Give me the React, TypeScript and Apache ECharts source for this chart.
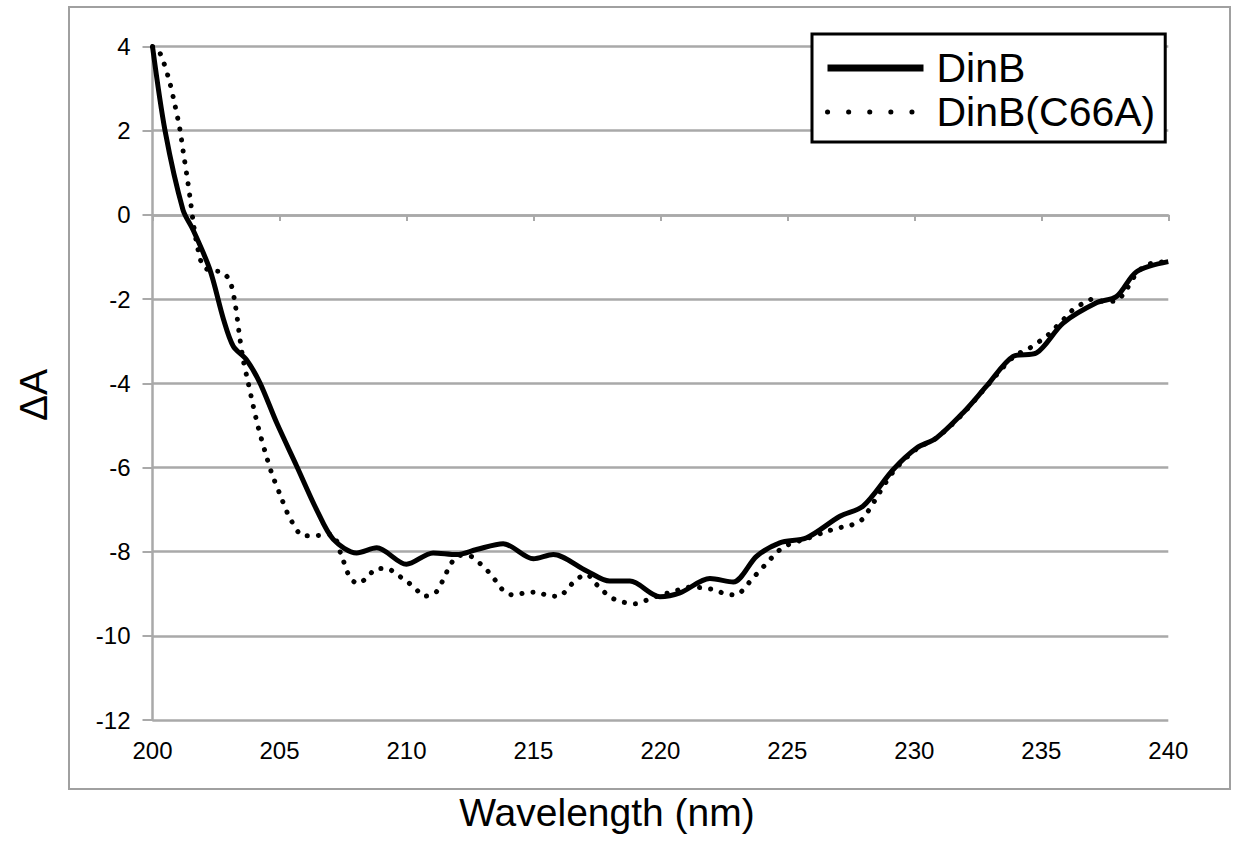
import React, { useEffect, useRef } from "react";
import * as echarts from "echarts";

const xTicks = [200, 205, 210, 215, 220, 225, 230, 235, 240];
const yTicks = [-12, -10, -8, -6, -4, -2, 0, 2, 4];

const dinbNm = [
  200.0, 200.5, 201.2, 201.6, 202.26, 202.8, 203.18, 203.7, 204.23, 204.89, 205.68, 206.46, 207.12,
  208.04, 208.83, 210.0, 211.05, 211.98, 212.76, 213.81, 215.0, 215.78, 217.1, 218.0, 218.8, 219.98,
  220.77, 221.95, 222.87, 223.79, 224.7, 225.76, 227.07, 227.98, 229.17, 230.09, 230.87, 231.92, 232.84,
  233.89, 234.81, 235.86, 237.17, 237.96, 238.75, 240.0,
];
const dinbVal = [
  4.0, 1.98, 0.12, -0.36, -1.3, -2.49, -3.12, -3.44, -3.99, -4.94, -5.97, -7.0, -7.71,
  -8.03, -7.91, -8.3, -8.03, -8.07, -7.95, -7.81, -8.17, -8.07, -8.46, -8.7, -8.7, -9.07,
  -8.98, -8.64, -8.72, -8.11, -7.79, -7.67, -7.16, -6.92, -6.05, -5.54, -5.3, -4.7, -4.07,
  -3.36, -3.28, -2.57, -2.09, -1.94, -1.35, -1.11,
];

const c66aNm = [
  200.0, 200.23, 200.43, 200.69, 200.89, 201.08, 201.21, 201.35, 201.48, 201.6, 201.74, 202.0, 202.4,
  202.72, 203.05, 203.25, 203.44, 203.57, 203.77, 203.97, 204.17, 204.43, 204.69, 205.02, 205.41, 205.94,
  206.33, 207.05, 207.45, 207.78, 208.1, 208.5, 208.83, 209.24, 209.61, 210.0, 210.36, 210.69, 211.12,
  211.35, 211.55, 211.78, 212.1, 212.53, 212.93, 213.26, 213.55, 213.84, 214.2, 214.67, 215.13, 215.54,
  216.02, 216.37, 216.7, 217.1, 217.42, 217.75, 218.12, 218.54, 219.0, 219.43, 219.85, 220.31, 220.77,
  221.23, 221.62, 222.08, 222.54, 222.97, 223.33, 223.59, 223.92, 224.24, 224.57, 224.9, 225.76, 226.6,
  227.07, 227.46, 227.9, 228.18, 229.17, 230.09, 230.87, 231.92, 232.84, 233.89, 234.55, 234.94, 235.27,
  235.6, 235.93, 236.25, 236.65, 237.04, 237.5, 237.96, 238.3, 238.76, 239.15, 239.55, 240.0,
];
const c66aVal = [
  4.0, 3.91, 3.64, 3.12, 2.59, 2.03, 1.5, 0.95, 0.4, -0.16, -0.67, -1.23, -1.33,
  -1.35, -1.58, -2.1, -2.93, -3.44, -3.99, -4.55, -5.06, -5.62, -6.13, -6.64, -7.2, -7.62,
  -7.62, -7.59, -8.11, -8.62, -8.76, -8.58, -8.4, -8.4, -8.54, -8.7, -8.88, -9.06, -8.99,
  -8.78, -8.53, -8.26, -8.09, -8.11, -8.3, -8.5, -8.72, -8.94, -9.03, -8.98, -8.96, -9.04,
  -9.06, -8.86, -8.66, -8.54, -8.74, -8.94, -9.11, -9.2, -9.24, -9.16, -9.06, -8.98, -8.9,
  -8.84, -8.86, -8.9, -9.0, -9.03, -8.86, -8.66, -8.45, -8.24, -8.03, -7.87, -7.69, -7.51,
  -7.43, -7.38, -7.26, -7.04, -6.1, -5.56, -5.3, -4.72, -4.08, -3.38, -3.16, -3.0, -2.85,
  -2.65, -2.45, -2.25, -2.1, -2.0, -2.06, -2.04, -1.82, -1.38, -1.19, -1.13, -1.11,
];

const seriesNames = ["DinB", "DinB(C66A)"];
const xTitle = "Wavelength (nm)";
const yTitle = "ΔA";

const FONT = "'Liberation Sans', Arial, Helvetica, sans-serif";
const GRID = "#a9a9a9";

export default function App() {
  const ref = useRef<HTMLDivElement>(null);
  useEffect(() => {
    if (!ref.current) return;
    const chart = echarts.init(ref.current, undefined, { renderer: "svg" });
    const dinb = dinbNm.map((x, i) => [x, dinbVal[i]]);
    const c66a = c66aNm.map((x, i) => [x, c66aVal[i]]);
    const hiddenSymbol = { color: "rgba(0,0,0,0)", opacity: 0, borderWidth: 0 };
    chart.setOption({
      animation: false,
      backgroundColor: "#ffffff",
      color: ["#000", "#000"],
      textStyle: { fontFamily: FONT },
      grid: { left: 152.5, right: 66.7, top: 46.5, bottom: 125 },
      xAxis: [
        {
          type: "value",
          min: xTicks[0],
          max: xTicks[xTicks.length - 1],
          interval: 5,
          position: "bottom",
          axisLine: { show: false, onZero: false },
          axisTick: { show: false },
          splitLine: { show: false },
          axisLabel: { fontSize: 24, color: "#000", margin: 18, fontFamily: FONT },
        },
        {
          type: "value",
          min: xTicks[0],
          max: xTicks[xTicks.length - 1],
          interval: 5,
          position: "top",
          axisLine: { show: true, onZero: true, lineStyle: { color: GRID, width: 2.5 } },
          axisTick: { show: true, inside: true, length: 6, lineStyle: { color: GRID, width: 2 } },
          splitLine: { show: false },
          axisLabel: { show: false },
        },
      ],
      yAxis: {
        type: "value",
        min: yTicks[0],
        max: yTicks[yTicks.length - 1],
        interval: 2,
        axisLine: { show: true, onZero: false, lineStyle: { color: GRID, width: 2.5 } },
        axisTick: { show: true, length: 10, lineStyle: { color: GRID, width: 2 } },
        splitLine: { show: true, lineStyle: { color: GRID, width: 2.5 } },
        axisLabel: { fontSize: 24, color: "#000", margin: 22, fontFamily: FONT },
      },
      legend: {
        orient: "vertical",
        left: 812,
        top: 34,
        padding: [13, 10, 9, 12],
        backgroundColor: "#fff",
        borderColor: "#000",
        borderWidth: 3,
        itemWidth: 96,
        itemHeight: 20,
        itemGap: 2,
        textStyle: { fontSize: 41, color: "#000", fontFamily: FONT, lineHeight: 42, padding: [0, 0, 0, 8] },
        data: [
          { name: seriesNames[0], itemStyle: hiddenSymbol, lineStyle: { width: 7, type: "solid", color: "#000" } },
          { name: seriesNames[1], itemStyle: hiddenSymbol, lineStyle: { width: 5, type: [0.1, 21], cap: "round", color: "#000" } },
        ],
      },
      graphic: [
        {
          type: "rect",
          shape: { x: 69, y: 7, width: 1161, height: 782 },
          style: { fill: "none", stroke: "#a0a0a0", lineWidth: 2 },
          silent: true,
          z: -10,
        },
        {
          type: "text",
          x: 607,
          y: 812,
          style: { text: xTitle, fontSize: 39, fill: "#000", font: `39px ${FONT}`, align: "center", verticalAlign: "middle" },
        },
        {
          type: "text",
          x: 33,
          y: 395,
          rotation: Math.PI / 2,
          style: { text: yTitle, fontSize: 39, fill: "#000", font: `39px ${FONT}`, align: "center", verticalAlign: "middle" },
        },
      ],
      series: [
        {
          name: seriesNames[1],
          type: "line",
          xAxisIndex: 0,
          data: c66a,
          symbol: "none",
          smooth: 0.3,
          itemStyle: { color: "#000" },
          lineStyle: { color: "#000", width: 5, type: [0.1, 11], cap: "round" },
          z: 3,
        },
        {
          name: seriesNames[0],
          type: "line",
          xAxisIndex: 0,
          data: dinb,
          symbol: "none",
          smooth: 0.3,
          itemStyle: { color: "#000" },
          lineStyle: { color: "#000", width: 5 },
          z: 4,
        },
      ],
    });
    return () => chart.dispose();
  }, []);
  return (
    <div
      ref={ref}
      style={{ position: "absolute", left: 0, top: 0, width: 1235, height: 845, background: "#fff" }}
    />
  );
}
